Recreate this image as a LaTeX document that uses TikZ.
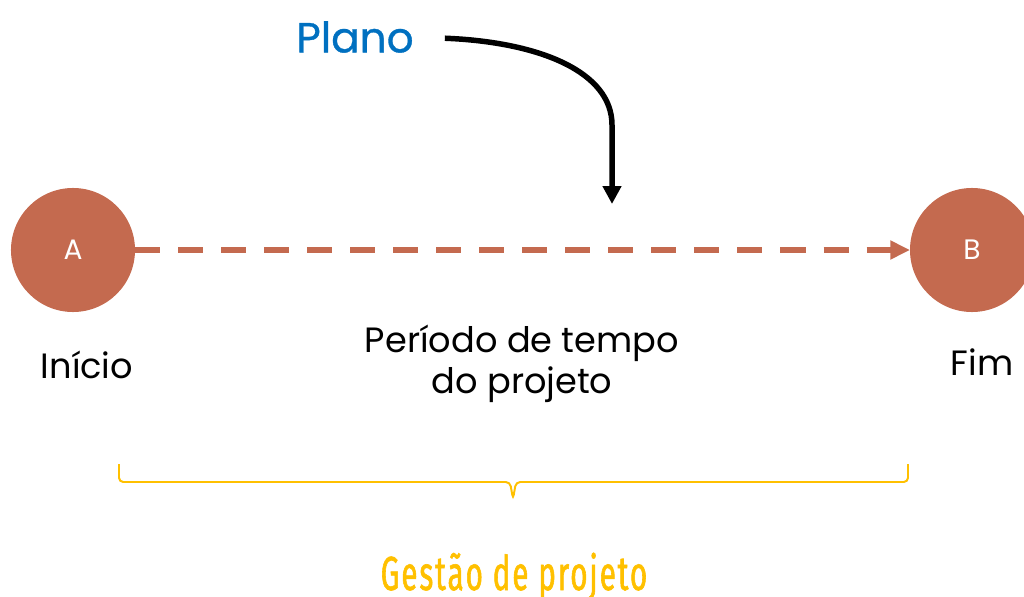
\documentclass[tikz,border=0pt]{standalone}
\usepackage{fontspec}
\setmainfont{Poppins}
\newfontfamily\estreita[FakeStretch=0.62, FakeBold=1.2, LetterSpace=4]{Fira Sans}
\newfontfamily\medio[FakeBold=0.8]{Poppins}
\usetikzlibrary{arrows.meta,positioning}
\definecolor{tijolo}{HTML}{C46A4F}
\definecolor{azulplano}{HTML}{0070C0}
\definecolor{ouro}{HTML}{FFC000}
\tikzstyle{marco} = [circle, minimum size=3.1cm, inner sep=0pt, outer sep=0pt, fill=tijolo, text=white, font=\fontsize{20}{24}\selectfont]
\tikzstyle{rotulo} = [font=\fontsize{25}{29.5}\selectfont, align=center, inner sep=0pt]
\tikzstyle{tracejado} = [tijolo, line width=4.3pt, dash pattern=on 17.8pt off 12.8pt, -{Triangle[length=14pt,width=12.8pt]}]
\tikzstyle{seta} = [black, line width=3.9pt, -{Triangle[length=12.8pt,width=12.8pt]}]

\begin{document}
\begin{tikzpicture}[x=0.025cm,y=-0.025cm]
            \useasboundingbox (0,0) rectangle (1024,597);
            \node (A) [marco] at (73,250) {A};
            \node (B) [marco] at (972,250) {B};
            \node (Inicio) [rotulo] at (87,365) {Início};
            \node (Fim) [rotulo] at (982,362) {Fim};
            \node (Periodo) [rotulo] at (522,364) {Período de tempo\\do projeto};
            \node (Plano) [font=\medio\fontsize{30}{34}\selectfont, text=azulplano, inner sep=0pt] at (355,37) {Plano};
            \node (Gestao) [font=\estreita\fontsize{34}{40}\selectfont, text=ouro, inner sep=0pt, anchor=base] at (514,590) {Gestão de projeto};
            \coordinate (Alvo) at (612,204);

            \draw [tracejado] (A) -- (B);
            \draw [seta, shorten <=22pt] (Plano.east) .. controls (540,42) and (612,72) .. (612,125) -- (Alvo);
            % chave amarela
            \draw [ouro, line width=1.4pt, rounded corners=3pt] (119,464) -- (119,482) -- (510,482) -- (513,499) -- (516,482) -- (908,482) -- (908,464);
        \end{tikzpicture}
\end{document}
